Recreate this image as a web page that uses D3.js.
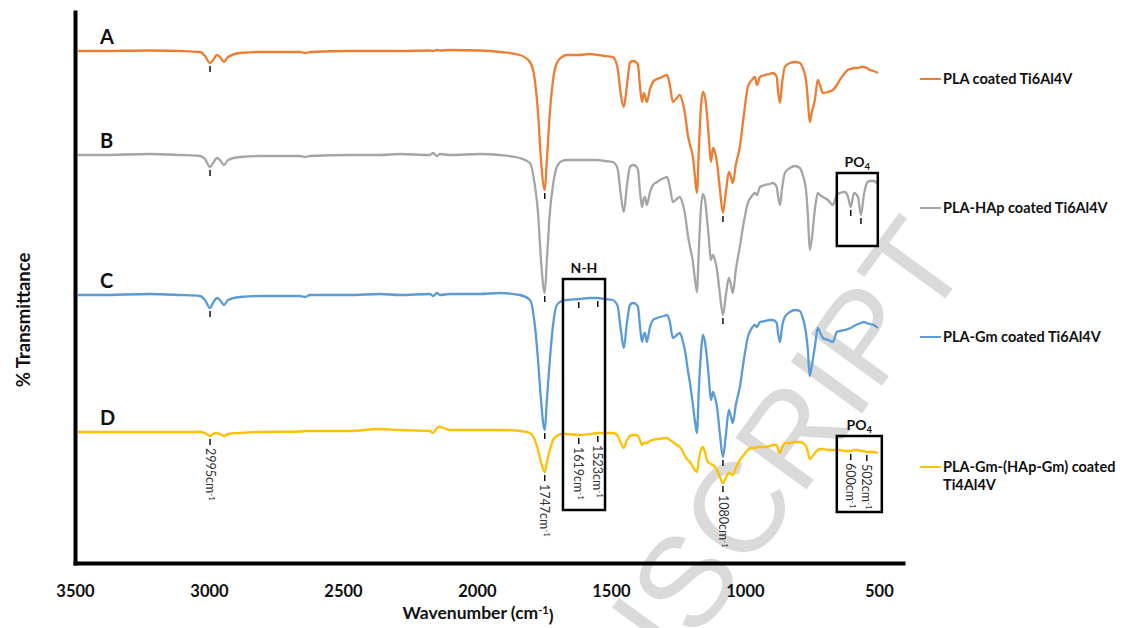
<!DOCTYPE html>
<html>
<head>
<meta charset="utf-8">
<script src="https://cdn.jsdelivr.net/npm/d3@7"></script>
<style>
  body { margin: 0; background: #fff; }
  svg { display: block; font-family: Lato, 'Open Sans', sans-serif; }
</style>
</head>
<body>
<div id="chart"></div>
<script>
// wavenumber grid (cm-1), shared by all four spectra
const wavenumbers = [
  3489, 3407, 3220, 3108, 3034, 3015, 2996, 2985, 2970, 2959,
  2944, 2929, 2884, 2810, 2660, 2642, 2623, 2474, 2362, 2287,
  2175, 2164, 2149, 2138, 2101, 1989, 1914, 1840, 1802, 1784,
  1772, 1761, 1747, 1739, 1728, 1716, 1702, 1683, 1664, 1620,
  1578, 1549, 1522, 1493, 1481, 1474, 1463, 1452, 1440, 1429,
  1418, 1407, 1399, 1392, 1384, 1377, 1373, 1366, 1355, 1343,
  1328, 1317, 1302, 1291, 1280, 1269, 1254, 1243, 1231, 1224,
  1213, 1205, 1194, 1187, 1179, 1172, 1164, 1157, 1149, 1142,
  1134, 1127, 1119, 1112, 1104, 1093, 1082, 1071, 1060, 1052,
  1045, 1034, 1019, 1004, 989, 974, 963, 955, 944, 925,
  907, 896, 881, 877, 869, 862, 851, 832, 813, 795,
  784, 772, 765, 758, 750, 739, 728, 720, 709, 690,
  672, 657, 646, 627, 616, 605, 593, 578, 567, 556,
  545, 534, 519, 504
]

// offset transmittance
const spectrumA = [
  102.4, 102.4, 102.5, 102.4, 102.2, 101.4, 100.0, 100.6, 101.6, 101.2,
  100.2, 101.2, 102.0, 102.2, 102.2, 102.0, 102.2, 102.4, 102.4, 102.4,
  102.5, 102.4, 102.6, 102.5, 102.6, 102.5, 102.2, 101.6, 100.2, 96.6,
  90.0, 80.6, 74.6, 80.6, 90.0, 96.6, 100.0, 101.2, 101.6, 101.6,
  101.8, 101.6, 101.4, 101.2, 100.2, 98.6, 93.6, 91.2, 95.6, 100.0,
  100.4, 100.2, 99.6, 95.6, 92.2, 94.0, 93.4, 92.2, 94.6, 96.2,
  96.8, 97.0, 97.4, 97.6, 95.6, 92.2, 93.0, 93.6, 91.8, 90.0,
  85.6, 83.6, 81.2, 77.6, 74.0, 82.6, 91.2, 94.2, 93.2, 90.0,
  84.6, 80.2, 83.0, 82.2, 80.0, 74.6, 70.0, 74.2, 78.2, 77.2,
  76.0, 79.6, 83.2, 89.6, 95.2, 96.6, 97.2, 95.6, 97.2, 97.6,
  97.8, 98.0, 97.2, 94.6, 92.0, 95.6, 99.2, 100.0, 100.2, 100.0,
  99.0, 96.6, 92.6, 88.2, 90.2, 92.6, 96.6, 95.6, 94.0, 94.2,
  94.6, 95.6, 96.6, 98.0, 98.6, 98.8, 99.0, 99.0, 99.2, 99.2,
  99.0, 98.6, 98.4, 98.0
]
const spectrumB = [
  81.6, 81.6, 81.8, 81.6, 81.4, 80.8, 79.2, 80.0, 81.0, 80.6,
  79.6, 80.6, 81.2, 81.4, 81.4, 81.2, 81.4, 81.6, 81.6, 81.8,
  81.6, 82.0, 81.4, 81.8, 81.6, 81.8, 81.6, 81.0, 80.0, 75.6,
  70.0, 60.6, 54.0, 60.6, 70.0, 75.6, 79.2, 80.4, 80.6, 80.6,
  80.6, 80.6, 80.4, 80.2, 79.6, 78.6, 73.6, 70.2, 75.6, 79.2,
  79.6, 79.4, 78.6, 74.6, 71.2, 73.0, 73.2, 71.6, 74.0, 75.6,
  76.2, 76.6, 77.0, 77.2, 75.2, 72.2, 72.8, 73.2, 71.6, 70.0,
  65.6, 63.2, 60.2, 57.0, 54.2, 62.6, 71.0, 73.8, 72.6, 69.2,
  64.6, 60.6, 61.6, 60.6, 58.6, 53.6, 49.6, 53.6, 57.0, 55.6,
  54.0, 58.6, 63.2, 68.2, 72.0, 73.4, 74.0, 73.6, 75.2, 75.6,
  75.8, 76.0, 75.2, 73.6, 71.6, 74.6, 78.0, 79.0, 79.4, 79.0,
  77.6, 74.6, 69.6, 62.6, 65.0, 70.6, 74.0, 73.6, 73.2, 72.6,
  71.6, 73.6, 74.0, 74.2, 73.4, 71.2, 74.0, 73.2, 69.6, 73.6,
  76.0, 76.4, 76.4, 75.8
]
const spectrumC = [
  53.6, 53.6, 53.8, 53.6, 53.4, 52.6, 51.0, 52.0, 53.0, 52.6,
  51.6, 52.6, 53.2, 53.4, 53.4, 53.2, 53.6, 53.6, 53.8, 53.6,
  53.8, 53.4, 54.0, 53.6, 53.8, 53.8, 54.0, 53.6, 52.6, 47.6,
  40.6, 32.6, 26.6, 32.6, 40.6, 47.6, 51.6, 52.4, 52.6, 52.8,
  53.0, 53.0, 52.8, 52.6, 52.0, 51.2, 46.6, 43.0, 48.2, 51.6,
  52.0, 51.8, 51.2, 47.6, 44.2, 45.8, 46.0, 44.2, 47.0, 48.6,
  49.0, 49.2, 49.4, 49.6, 48.2, 45.0, 45.6, 46.0, 44.2, 42.6,
  38.6, 36.0, 31.6, 28.6, 26.0, 34.6, 42.0, 45.6, 44.2, 41.2,
  36.6, 32.6, 34.2, 33.2, 31.2, 25.6, 21.2, 25.6, 30.6, 29.2,
  28.0, 31.6, 35.2, 40.6, 45.2, 47.0, 47.6, 47.2, 48.2, 48.4,
  48.6, 48.6, 48.0, 46.2, 44.2, 47.0, 49.2, 50.2, 50.6, 50.4,
  49.0, 46.0, 42.6, 37.4, 39.6, 43.2, 47.0, 46.2, 45.0, 44.6,
  44.2, 46.2, 46.4, 46.6, 46.8, 47.0, 47.4, 47.8, 48.0, 48.2,
  48.0, 47.8, 47.6, 47.0
]
const spectrumD = [
  26.2, 26.2, 26.2, 26.2, 26.2, 26.0, 25.4, 25.8, 26.0, 25.8,
  25.4, 25.8, 26.0, 26.2, 26.3, 26.4, 26.4, 26.4, 26.8, 26.6,
  26.4, 26.0, 27.0, 27.2, 26.6, 26.6, 26.6, 26.4, 26.0, 24.6,
  22.6, 20.2, 18.2, 20.2, 22.6, 24.6, 25.4, 25.8, 25.8, 25.6,
  25.8, 26.0, 26.0, 26.0, 25.8, 25.4, 24.0, 23.0, 24.6, 25.4,
  25.6, 25.6, 25.4, 24.6, 23.6, 24.0, 24.0, 24.0, 24.4, 24.6,
  24.8, 24.8, 25.0, 25.0, 24.6, 24.2, 23.6, 23.2, 22.2, 21.4,
  20.6, 20.2, 19.2, 18.6, 18.2, 20.6, 22.6, 23.2, 22.2, 20.6,
  20.0, 19.8, 19.6, 19.2, 18.6, 17.2, 16.0, 17.0, 18.0, 17.8,
  17.6, 19.0, 20.6, 21.6, 22.6, 23.0, 23.0, 23.2, 23.2, 23.2,
  23.4, 23.6, 23.6, 22.8, 22.0, 23.0, 24.0, 24.0, 24.2, 24.2,
  24.0, 23.4, 22.2, 20.8, 21.2, 22.0, 22.6, 22.8, 22.8, 22.6,
  22.6, 22.6, 22.6, 22.4, 22.4, 22.4, 22.6, 22.6, 22.4, 22.4,
  22.2, 22.2, 22.2, 22.0
]

const seriesLetters = ['A', 'B', 'C', 'D']
const seriesNames = [
  ['PLA coated Ti6Al4V'],
  ['PLA-HAp coated Ti6Al4V'],
  ['PLA-Gm coated Ti6Al4V'],
  ['PLA-Gm-(HAp-Gm) coated', 'Ti4Al4V']
]
const seriesColors = ['#ED7D31', '#A5A5A5', '#5B9BD5', '#FFC000']
const xTicks = [3500, 3000, 2500, 2000, 1500, 1000, 500]

// little marks under the peaks, per spectrum
const peakMarks = [
  [2996, 1747, 1082],
  [2996, 1747, 1082, 605, 567],
  [2996, 1747, 1620, 1549, 1082],
  [2996, 1747, 1620, 1549, 1082, 605, 545]
]
const peakLabels = [
  { wn: 2996, text: '2995' },
  { wn: 1747, text: '1747' },
  { wn: 1620, text: '1619' },
  { wn: 1549, text: '1523' },
  { wn: 1082, text: '1080' },
  { wn: 605, text: '600' },
  { wn: 545, text: '502' }
]
const boxes = [
  { label: 'N-H', sub: '', x0: 1679, x1: 1522, top: 56.8, bottom: 10.6 },
  { label: 'PO', sub: '4', x0: 657, x1: 504, top: 78.0, bottom: 63.4 },
  { label: 'PO', sub: '4', x0: 657, x1: 489, top: 25.4, bottom: 10.2 }
]

const spectra = [spectrumA, spectrumB, spectrumC, spectrumD]

const width = 1126
const height = 628

const svg = d3.select('#chart')
  .append('svg')
  .attr('width', width)
  .attr('height', height)

svg.append('rect').attr('width', width).attr('height', height).attr('fill', '#fff')

// Watermark
svg.append('text')
  .attr('transform', 'translate(972,262) rotate(-54)')
  .attr('text-anchor', 'end')
  .attr('font-family', 'Liberation Sans, sans-serif')
  .attr('font-size', 128)
  .attr('fill', '#dadada')
  .text('ACCEPTED MANUSCRIPT')

const x = d3.scaleLinear().domain([3500, 410]).range([75, 903])
const y = d3.scaleLinear().domain([0, 110.2]).range([563, 12])

// Axes
svg.append('g')
  .attr('transform', 'translate(0,563)')
  .call(d3.axisBottom(x).tickValues(xTicks).tickSize(0).tickPadding(22).tickFormat(d3.format('d')))
  .attr('font-family', null)
  .call(g => g.select('.domain').attr('stroke', '#000').attr('stroke-width', 4).attr('stroke-linecap', 'square'))
  .call(g => g.selectAll('text').attr('font-size', 16.5).attr('font-weight', 'bold').attr('fill', '#111'))

svg.append('g')
  .attr('transform', 'translate(75,0)')
  .call(d3.axisLeft(y).tickValues([]).tickSizeOuter(0))
  .call(g => g.select('.domain').attr('stroke', '#000').attr('stroke-width', 4).attr('stroke-linecap', 'square'))

// Axis titles
const xTitle = svg.append('text')
  .attr('x', 478)
  .attr('y', 619)
  .attr('text-anchor', 'middle')
  .attr('font-size', 17.5)
  .attr('font-weight', 'bold')
  .attr('fill', '#111')
xTitle.append('tspan').text('Wavenumber (cm')
xTitle.append('tspan').attr('dy', '-0.45em').attr('font-size', 11).text('-1')
xTitle.append('tspan').attr('dy', '0.45em').text(')')

svg.append('text')
  .attr('transform', 'translate(30,320) rotate(-90)')
  .attr('text-anchor', 'middle')
  .attr('font-size', 18.5)
  .attr('font-weight', 'bold')
  .attr('fill', '#111')
  .text('% Transmittance')

// Spectra
const line = d3.line()
  .x((d, i) => x(wavenumbers[i]))
  .y(d => y(d))
  .curve(d3.curveMonotoneX)

svg.append('g')
  .selectAll('path')
  .data(spectra)
  .join('path')
  .attr('fill', 'none')
  .attr('stroke', (d, i) => seriesColors[i])
  .attr('stroke-width', 2.3)
  .attr('stroke-linejoin', 'round')
  .attr('d', line)

// Peak marks
spectra.forEach((s, i) => {
  svg.append('g')
    .selectAll('line')
    .data(peakMarks[i])
    .join('line')
    .attr('x1', wn => x(wn))
    .attr('x2', wn => x(wn))
    .attr('y1', wn => y(s[wavenumbers.indexOf(wn)]) + 3)
    .attr('y2', wn => y(s[wavenumbers.indexOf(wn)]) + 9)
    .attr('stroke', '#111')
    .attr('stroke-width', 1.5)
})

// Peak labels, rotated, under the bottom spectrum
const labels = svg.append('g')
  .selectAll('text')
  .data(peakLabels)
  .join('text')
  .attr('transform', d => `translate(${x(d.wn)},${y(spectrumD[wavenumbers.indexOf(d.wn)]) + 12}) rotate(90)`)
  .attr('dy', '0.35em')
  .attr('font-size', 12.5)
  .attr('fill', '#333')
labels.append('tspan').text(d => d.text + 'cm')
labels.append('tspan').attr('dy', '-0.45em').attr('font-size', 8).text('-1')

// Boxes
boxes.forEach(b => {
  svg.append('rect')
    .attr('x', x(b.x0))
    .attr('y', y(b.top))
    .attr('width', x(b.x1) - x(b.x0))
    .attr('height', y(b.bottom) - y(b.top))
    .attr('fill', 'none')
    .attr('stroke', '#000')
    .attr('stroke-width', 2.5)
  const t = svg.append('text')
    .attr('x', (x(b.x0) + x(b.x1)) / 2)
    .attr('y', y(b.top) - 6)
    .attr('text-anchor', 'middle')
    .attr('font-size', 14)
    .attr('font-weight', 'bold')
    .attr('fill', '#111')
  t.append('tspan').text(b.label)
  if (b.sub) t.append('tspan').attr('dy', '0.3em').attr('font-size', 9.5).text(b.sub)
})

// Spectrum letters
svg.append('g')
  .selectAll('text')
  .data(seriesLetters)
  .join('text')
  .attr('x', x(wavenumbers[1]))
  .attr('y', (d, i) => y(spectra[i][0]) - 7)
  .attr('font-size', 20)
  .attr('font-weight', 'bold')
  .attr('fill', '#111')
  .text(d => d)

// Legend
const legendY = [79, 208, 337, 467]
seriesNames.forEach((name, i) => {
  const g = svg.append('g').attr('transform', `translate(920,${legendY[i]})`)
  g.append('line')
    .attr('x1', 0)
    .attr('x2', 21)
    .attr('stroke', seriesColors[i])
    .attr('stroke-width', 2)
  name.forEach((part, j) => {
    g.append('text')
      .attr('x', 23)
      .attr('y', j * 18)
      .attr('dy', '0.35em')
      .attr('font-size', 14.5)
      .attr('font-weight', 'bold')
      .attr('fill', '#111')
      .text(part)
  })
})
</script>
</body>
</html>
